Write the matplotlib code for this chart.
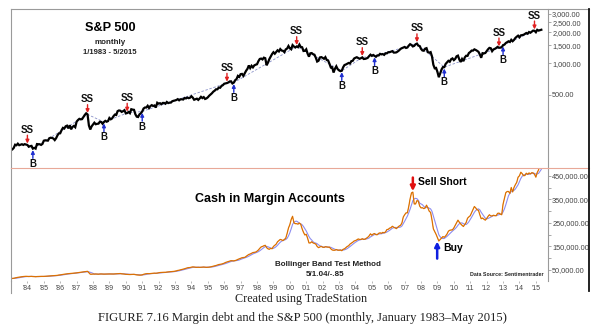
import numpy as np
import pandas as pd
import matplotlib
matplotlib.use('Agg')
import matplotlib.pyplot as plt
from matplotlib.lines import Line2D
from matplotlib.ticker import FixedLocator, FuncFormatter

plt.rcParams['font.family'] = ['Liberation Sans', 'DejaVu Sans']

# S&P 500 monthly closes, 1/1983 - 5/2015
spx = [
    145.3, 148.1, 153.0, 164.4, 162.4, 168.1, 162.6, 164.4, 166.1, 163.6, 166.4, 164.9,
    163.4, 157.1, 159.2, 160.1, 150.6, 153.2, 150.7, 166.7, 166.1, 166.1, 163.6, 167.2,
    179.6, 181.2, 180.7, 179.8, 189.6, 191.9, 190.9, 188.6, 182.1, 189.8, 202.2, 211.3,
    211.8, 226.9, 238.9, 235.5, 247.4, 250.8, 236.1, 252.9, 231.3, 244.0, 249.2, 242.2,
    274.1, 284.2, 291.7, 288.4, 290.1, 304.0, 318.7, 329.8, 321.8, 251.8, 230.3, 247.1,
    257.1, 267.8, 258.9, 261.3, 262.2, 273.5, 272.0, 261.5, 271.9, 279.0, 273.7, 277.7,
    297.5, 288.9, 294.9, 309.6, 320.5, 318.0, 346.1, 351.5, 349.2, 340.4, 346.0, 353.4,
    329.1, 331.9, 339.9, 330.8, 361.2, 358.0, 356.2, 322.6, 306.1, 304.0, 322.2, 330.2,
    343.9, 367.1, 375.2, 375.3, 389.8, 371.2, 387.8, 395.4, 387.9, 392.5, 375.2, 417.1,
    408.8, 412.7, 403.7, 415.0, 415.4, 408.1, 424.2, 414.0, 417.8, 418.7, 431.4, 435.7,
    438.8, 443.4, 451.7, 440.2, 450.2, 450.5, 448.1, 463.6, 458.9, 467.8, 461.8, 466.5,
    481.6, 467.1, 445.8, 450.9, 456.5, 444.3, 458.3, 475.5, 462.7, 472.4, 453.7, 459.3,
    470.4, 487.4, 500.7, 514.7, 533.4, 544.8, 562.1, 561.9, 584.4, 581.5, 605.4, 615.9,
    636.0, 640.4, 645.5, 654.2, 669.1, 670.6, 639.9, 652.0, 687.3, 705.3, 757.0, 740.7,
    786.2, 790.8, 757.1, 801.3, 848.3, 885.1, 954.3, 899.5, 947.3, 914.6, 955.4, 970.4,
    980.3, 1049.3, 1101.8, 1111.8, 1090.8, 1133.8, 1120.7, 957.3, 1017.0, 1098.7, 1163.6, 1229.2,
    1279.6, 1238.3, 1286.4, 1335.2, 1301.8, 1372.7, 1328.7, 1320.4, 1282.7, 1362.9, 1388.9, 1469.3,
    1394.5, 1366.4, 1498.6, 1452.4, 1420.6, 1454.6, 1430.8, 1517.7, 1436.5, 1429.4, 1315.2, 1320.3,
    1366.0, 1239.9, 1160.3, 1249.5, 1255.8, 1224.4, 1211.2, 1133.6, 1040.9, 1059.8, 1139.5, 1148.1,
    1130.2, 1106.7, 1147.4, 1076.9, 1067.1, 989.8, 911.6, 916.1, 815.3, 885.8, 936.3, 879.8,
    855.7, 841.2, 848.2, 916.9, 963.6, 974.5, 990.3, 1008.0, 996.0, 1050.7, 1058.2, 1111.9,
    1131.1, 1144.9, 1126.2, 1107.3, 1120.7, 1140.8, 1101.7, 1104.2, 1114.6, 1130.2, 1173.8, 1211.9,
    1181.3, 1203.6, 1180.6, 1156.9, 1191.5, 1191.3, 1234.2, 1220.3, 1228.8, 1207.0, 1249.5, 1248.3,
    1280.1, 1280.7, 1294.9, 1310.6, 1270.1, 1270.2, 1276.7, 1303.8, 1335.9, 1377.9, 1400.6, 1418.3,
    1438.2, 1406.8, 1420.9, 1482.4, 1530.6, 1503.4, 1455.3, 1474.0, 1526.8, 1549.4, 1481.1, 1468.4,
    1378.6, 1330.6, 1322.7, 1385.6, 1400.4, 1280.0, 1267.4, 1282.8, 1166.4, 968.8, 896.2, 903.3,
    825.9, 735.1, 797.9, 872.8, 919.1, 919.3, 987.5, 1020.6, 1057.1, 1036.2, 1095.6, 1115.1,
    1073.9, 1104.5, 1169.4, 1186.7, 1089.4, 1030.7, 1101.6, 1049.3, 1141.2, 1183.3, 1180.6, 1257.6,
    1286.1, 1327.2, 1325.8, 1363.6, 1345.2, 1320.6, 1292.3, 1218.9, 1131.4, 1253.3, 1247.0, 1257.6,
    1312.4, 1365.7, 1408.5, 1397.9, 1310.3, 1362.2, 1379.3, 1406.6, 1440.7, 1412.2, 1416.2, 1426.2,
    1498.1, 1514.7, 1569.2, 1597.6, 1630.7, 1606.3, 1685.7, 1633.0, 1681.6, 1756.5, 1805.8, 1848.4,
    1782.6, 1859.5, 1872.3, 1884.0, 1923.6, 1960.2, 1930.7, 2003.4, 1972.3, 2018.1, 2067.6, 2058.9,
    1995.0, 2104.5, 2067.9, 2085.5, 2107.4,
]

# cash in margin accounts ($ billions), same months
margin_bn = [
    13.3, 14.0, 14.6, 16.0, 17.3, 18.6, 19.5, 20.0, 21.1, 22.0, 22.5, 23.0,
    22.4, 22.0, 22.3, 22.8, 22.0, 21.8, 21.0, 21.9, 22.2, 22.4, 22.7, 22.5,
    22.6, 23.0, 23.3, 23.8, 24.2, 24.6, 25.0, 25.5, 25.8, 26.5, 27.2, 28.4,
    28.9, 30.0, 31.5, 32.0, 32.8, 33.5, 34.0, 34.8, 35.3, 35.6, 36.2, 36.8,
    37.5, 38.5, 39.5, 40.2, 41.0, 41.5, 42.5, 43.5, 44.2, 38.0, 32.0, 31.9,
    32.5, 32.3, 32.9, 32.5, 32.0, 32.8, 33.0, 32.5, 32.3, 32.5, 32.8, 32.7,
    33.0, 32.8, 32.5, 32.7, 33.2, 33.5, 34.0, 34.5, 34.8, 33.5, 33.0, 32.4,
    31.5, 31.2, 31.0, 30.5, 30.8, 31.0, 31.5, 30.0, 29.0, 28.5, 28.0, 28.2,
    29.0, 31.5, 33.0, 34.0, 34.5, 34.0, 34.8, 35.5, 36.0, 36.5, 36.0, 36.7,
    38.0, 39.0, 39.5, 39.8, 40.2, 40.0, 41.0, 41.5, 42.0, 42.5, 43.0, 43.9,
    45.0, 46.0, 48.0, 49.0, 50.5, 52.0, 53.5, 55.0, 57.0, 59.0, 60.0, 60.3,
    62.0, 63.0, 62.5, 61.5, 61.0, 61.5, 61.0, 61.5, 62.0, 62.5, 61.8, 61.0,
    61.5, 62.0, 63.0, 64.5, 66.0, 67.5, 69.0, 71.0, 73.0, 74.0, 75.0, 76.7,
    79.0, 82.0, 84.0, 86.0, 88.0, 89.5, 89.0, 88.5, 90.0, 92.0, 95.0, 97.4,
    100.0, 102.0, 103.0, 103.5, 108.0, 112.0, 116.0, 118.0, 121.0, 124.0, 125.0, 126.1,
    130.0, 135.0, 142.0, 148.0, 150.0, 153.0, 155.0, 145.0, 140.0, 138.0, 142.0, 140.4,
    150.0, 155.0, 160.0, 170.0, 175.0, 180.0, 178.0, 175.0, 180.0, 185.0, 205.0, 228.5,
    243.0, 265.0, 278.5, 251.0, 247.0, 247.0, 245.0, 250.0, 244.0, 225.0, 210.0, 198.8,
    202.0, 185.0, 165.0, 165.0, 170.0, 165.0, 163.0, 160.0, 150.0, 145.0, 148.0, 150.4,
    147.0, 146.0, 149.0, 148.0, 147.0, 147.0, 140.0, 135.0, 134.0, 134.0, 137.0, 134.4,
    134.0, 135.0, 132.0, 138.0, 140.0, 145.0, 150.0, 153.0, 160.0, 164.0, 168.0, 173.1,
    175.0, 178.0, 182.0, 180.0, 180.0, 183.0, 180.0, 181.0, 185.0, 189.0, 195.0, 203.8,
    198.0, 203.0, 205.0, 200.0, 200.0, 206.0, 208.0, 206.0, 210.0, 208.0, 212.0, 221.7,
    223.0, 228.0, 230.0, 236.0, 232.0, 229.0, 226.0, 232.0, 237.0, 240.0, 250.0, 275.4,
    285.0, 293.0, 293.0, 320.0, 353.0, 378.0, 381.4, 331.0, 331.0, 345.0, 343.0, 322.0,
    314.0, 315.0, 311.0, 314.0, 326.0, 314.0, 300.0, 295.0, 263.0, 225.0, 213.0, 201.6,
    187.0, 173.3, 180.0, 186.0, 192.0, 189.0, 195.0, 203.0, 215.0, 219.0, 220.0, 221.0,
    229.0, 240.0, 250.0, 262.0, 253.0, 246.0, 240.0, 235.0, 244.0, 252.0, 270.0, 276.0,
    281.0, 294.0, 306.0, 320.0, 314.0, 306.0, 304.0, 285.0, 268.0, 271.0, 266.0, 262.0,
    269.0, 278.0, 285.0, 280.0, 280.0, 283.0, 281.0, 281.0, 291.0, 292.0, 288.0, 285.0,
    330.0, 355.0, 379.0, 384.0, 384.0, 376.0, 401.0, 382.0, 401.0, 413.0, 423.0, 444.9,
    451.0, 466.0, 460.0, 451.0, 452.0, 462.0, 457.0, 463.0, 459.0, 464.0, 463.0, 457.0,
    445.0, 465.0, 476.0, 507.0, 499.0,
]

ss_months = ['1984-01', '1987-09', '1990-02', '1996-03', '2000-06', '2004-06',
             '2007-10', '2012-10', '2014-12']
b_months = ['1984-05', '1988-09', '1991-01', '1996-08', '2003-03', '2005-03',
            '2009-06', '2013-01']

years = list(range(1984, 2016))
year_labels = ["'%02d" % (y % 100) for y in years]
spx_ticks = [500, 1000, 1500, 2000, 2500, 3000]
margin_ticks = [50000, 150000, 250000, 350000, 450000]

dates = pd.date_range('1983-01-01', periods=len(spx), freq='MS')
df = pd.DataFrame({'spx': spx, 'margin': np.array(margin_bn) * 1000}, index=dates)
df['x'] = df.index.year + (df.index.month - 1) / 12.0
df['band_mid'] = df['margin'].rolling(5, min_periods=1).mean()


def xpos(m):
    return df.loc[m, 'x'].iloc[0]


def price(m):
    return df.loc[m, 'spx'].iloc[0]


W, H = 605, 334
fig = plt.figure(figsize=(W / 100, H / 100), dpi=100)
L, R, T, MID, B = 11, 548, 9, 168, 281
ax1 = fig.add_axes([L / W, 1 - MID / H, (R - L) / W, (MID - T) / H])
ax2 = fig.add_axes([L / W, 1 - B / H, (R - L) / W, (B - MID) / H])

xmin, xmax = 1983.0, 2015.74
lab_col = '#444444'
spine_col = '#9a9a9a'

# --- top panel: S&P 500
ax1.plot(df['x'], df['spx'], color='black', lw=1.6, solid_joinstyle='miter')
ax1.set_yscale('log')
ax1.set_ylim(98, 3340)
ax1.set_xlim(xmin, xmax)

# trade line through the signals
sig = sorted([(xpos(m), price(m)) for m in ss_months + b_months])
ax1.plot([s[0] for s in sig], [s[1] for s in sig], color='#8890c8', lw=0.6,
         ls=(0, (3, 2)), zorder=1)

for m in ss_months:
    x, p = xpos(m), price(m)
    ax1.annotate('', xy=(x, p), xycoords='data', xytext=(0, 7), textcoords='offset points',
                 arrowprops=dict(arrowstyle='-|>', color='#e02020', lw=1.0,
                                 mutation_scale=5, shrinkA=0, shrinkB=1))
    ax1.annotate('SS', xy=(x, p), xytext=(0, 11), textcoords='offset points',
                 ha='center', va='center', fontsize=7, fontweight='bold', color='#111111')
for m in b_months:
    x, p = xpos(m), price(m)
    ax1.annotate('', xy=(x, p), xycoords='data', xytext=(0, -7), textcoords='offset points',
                 arrowprops=dict(arrowstyle='-|>', color='#2030d0', lw=1.0,
                                 mutation_scale=5, shrinkA=0, shrinkB=1))
    ax1.annotate('B', xy=(x, p), xytext=(0, -11), textcoords='offset points',
                 ha='center', va='center', fontsize=7, fontweight='bold', color='#111111')

cx = (110 - L) / (R - L)
ax1.text(cx, 1 - (28 - T) / (MID - T), 'S&P 500', transform=ax1.transAxes,
         ha='center', va='center', fontsize=9.2, fontweight='bold')
ax1.text(cx, 1 - (43 - T) / (MID - T), 'monthly', transform=ax1.transAxes,
         ha='center', va='center', fontsize=5.8, fontweight='bold', color='#222222')
ax1.text(cx, 1 - (52 - T) / (MID - T), '1/1983 - 5/2015', transform=ax1.transAxes,
         ha='center', va='center', fontsize=5.5, fontweight='bold', color='#222222')

# --- bottom panel: cash in margin accounts
ax2.plot(df['x'], df['band_mid'], color='#8c8cf0', lw=0.8)
ax2.plot(df['x'], df['margin'], color='#ee7a00', lw=0.9)
ax2.plot(df['x'], df['margin'], color='#a05a10', lw=0.3, alpha=0.6)
ax2.set_ylim(3000, 484000)
ax2.set_xlim(xmin, xmax)

sx, sv = xpos('2007-07'), df.loc['2007-07', 'margin'].iloc[0]
ax2.annotate('', xy=(sx, sv + 4000), xytext=(sx, sv + 62000),
             arrowprops=dict(arrowstyle='-|>', color='#e01010', lw=1.8,
                             mutation_scale=7, shrinkA=0, shrinkB=0))
ax2.text(sx + 0.3, sv + 45000, 'Sell Short', ha='left', va='center',
         fontsize=7.5, fontweight='bold')
bx, bv = xpos('2009-02'), df.loc['2009-02', 'margin'].iloc[0]
ax2.annotate('', xy=(bx - 0.1, bv - 2000), xytext=(bx - 0.1, bv - 75000),
             arrowprops=dict(arrowstyle='-|>', color='#1020e0', lw=1.8,
                             mutation_scale=7, shrinkA=0, shrinkB=0))
ax2.text(bx + 0.25, bv - 28000, 'Buy', ha='left', va='center',
         fontsize=7.5, fontweight='bold')


def ax2_frac(px):
    return 1 - (px - MID) / (B - MID)


ax2.text((270 - L) / (R - L), ax2_frac(199), 'Cash in Margin Accounts', transform=ax2.transAxes,
         ha='center', va='center', fontsize=9, fontweight='bold')
ax2.text((328 - L) / (R - L), ax2_frac(265), 'Bollinger Band Test Method', transform=ax2.transAxes,
         ha='center', va='center', fontsize=5.8, fontweight='bold', color='#222222')
ax2.text((325 - L) / (R - L), ax2_frac(274), '5/1.04/-.85', transform=ax2.transAxes,
         ha='center', va='center', fontsize=5.8, fontweight='bold', color='#222222')
ax2.text((507 - L) / (R - L), ax2_frac(274), 'Data Source: Sentimentrader', transform=ax2.transAxes,
         ha='center', va='center', fontsize=3.8, fontweight='bold', color='#222222')

# --- axes styling
money = FuncFormatter(lambda v, p: '{:,.2f}'.format(v))
for ax in (ax1, ax2):
    ax.yaxis.tick_right()
    for s in ('top', 'bottom'):
        ax.spines[s].set_visible(False)
    ax.spines['left'].set_color(spine_col)
    ax.spines['right'].set_color(spine_col)
    ax.spines['left'].set_linewidth(0.8)
    ax.spines['right'].set_linewidth(0.8)
    ax.tick_params(axis='y', which='both', direction='out', length=2, width=0.6,
                   colors=spine_col, labelcolor=lab_col, labelsize=5.3, pad=1)

ax1.yaxis.set_major_locator(FixedLocator(spx_ticks))
ax1.yaxis.set_minor_locator(FixedLocator([]))
ax1.yaxis.set_major_formatter(money)
ax1.yaxis.set_minor_formatter(FuncFormatter(lambda v, p: ''))
ax1.set_xticks([])

ax2.yaxis.set_major_locator(FixedLocator(margin_ticks))
ax2.yaxis.set_minor_locator(FixedLocator([100000, 200000, 300000, 400000]))
ax2.yaxis.set_major_formatter(money)
ax2.set_xticks(years)
ax2.set_xticklabels(year_labels)
ax2.tick_params(axis='x', direction='out', length=1.5, width=0.5, colors=spine_col,
                labelcolor=lab_col, labelsize=5, pad=1.5)

# frame pieces
fig.add_artist(Line2D([L / W, 589 / W], [1 - T / H, 1 - T / H], color=spine_col, lw=0.8))
fig.add_artist(Line2D([L / W, 589 / W], [1 - MID / H, 1 - MID / H], color='#e8a898', lw=0.8))
fig.add_artist(Line2D([589 / W, 589 / W], [1 - T / H, 1 - 291 / H], color='#111111', lw=1.3))
fig.add_artist(Line2D([L / W, L / W], [1 - B / H, 1 - 293 / H], color=spine_col, lw=0.8))

# caption
fig.text(301 / W, 1 - 299 / H, 'Created using TradeStation', ha='center', va='center',
         fontsize=8.7, family='Liberation Serif', color='#222222')
fig.text(302 / W, 1 - 318 / H, 'FIGURE 7.16 Margin debt and the S&P 500 (monthly, January 1983\u2013May 2015)',
         ha='center', va='center', fontsize=9.1, family='Liberation Serif', color='#222222')

fig.savefig('out.png', dpi=100)
